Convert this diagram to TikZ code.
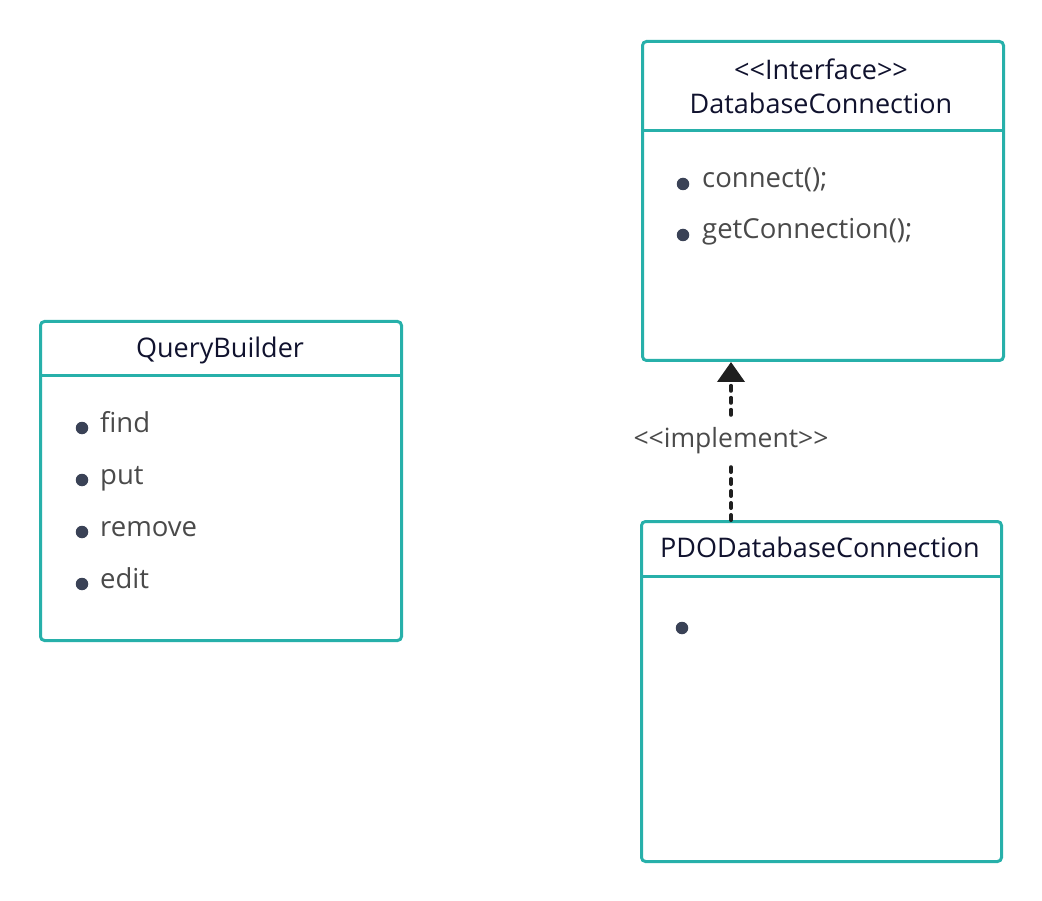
\documentclass[tikz,border=0pt]{standalone}
\usepackage{fontspec}
\setmainfont{Open Sans}[Ligatures=TeXOff]
\usetikzlibrary{arrows.meta}
\definecolor{teal1}{HTML}{27B0AA}
\definecolor{titlec}{HTML}{10122E}
\definecolor{itemc}{HTML}{4A4A4A}
\definecolor{bulletc}{HTML}{3A4256}
\begin{document}
\begin{tikzpicture}[x=1pt,y=-1pt,
  umlbox/.style={draw=teal1, line width=3pt, rounded corners=4pt, fill=white, anchor=north west, inner sep=0pt},
  divider/.style={draw=teal1, line width=3pt},
  titletext/.style={text=titlec, font=\fontsize{27}{30}\selectfont, inner sep=0pt, anchor=base},
  itemtext/.style={text=itemc, font=\fontsize{27.5}{30}\selectfont, anchor=base west, inner sep=0pt},
  bullet/.style={circle, fill=bulletc, inner sep=0pt, minimum size=12.5pt},
  implline/.style={line width=4pt, dash pattern=on 5pt off 7pt, line cap=round, color=black!88},
  impllabel/.style={text=itemc, font=\fontsize{26.5}{29}\selectfont, inner sep=0pt, minimum height=52pt}
]
\useasboundingbox (0,0) rectangle (1042,901);

% DatabaseConnection
\node[umlbox, minimum width=361pt, minimum height=319pt] (dbc) at (641,40) {};
\draw[divider] (641,131) -- (1002,131);
\node[titletext] (dbcst) at (821,80) {<<Interface>>};
\node[titletext] (dbct) at (821,114) {DatabaseConnection};
\node[bullet] (dbb1) at (683,184) {};
\node[itemtext] (dbi1) at (702,188) {connect();};
\node[bullet] (dbb2) at (683,235) {};
\node[itemtext] (dbi2) at (702,239) {getConnection();};

% QueryBuilder
\node[umlbox, minimum width=361pt, minimum height=319pt] (qb) at (39,320) {};
\draw[divider] (39,376) -- (400,376);
\node[titletext] (qbt) at (220,358) {QueryBuilder};
\node[bullet] (qbb1) at (82,428) {};
\node[itemtext] (qbi1) at (100,432) {find};
\node[bullet] (qbb2) at (82,480) {};
\node[itemtext] (qbi2) at (100,484) {put};
\node[bullet] (qbb3) at (82,532) {};
\node[itemtext] (qbi3) at (100,536) {remove};
\node[bullet] (qbb4) at (82,584) {};
\node[itemtext] (qbi4) at (100,588) {edit};

% PDODatabaseConnection
\node[umlbox, minimum width=360pt, minimum height=340pt] (pdo) at (640,520) {};
\draw[divider] (640,576) -- (1000,576);
\node[titletext] (pdot) at (820,557) {PDODatabaseConnection};
\node[bullet] (pdob1) at (682,628) {};

% implement relation
\node[impllabel] (impl) at (731,441) {<<implement>>};
\draw[implline, -{Triangle[width=27pt,length=20pt]}] (impl.north) -- (impl.north |- dbc.south);
\draw[implline] (pdo.north -| impl) -- (impl.south);
\end{tikzpicture}
\end{document}
